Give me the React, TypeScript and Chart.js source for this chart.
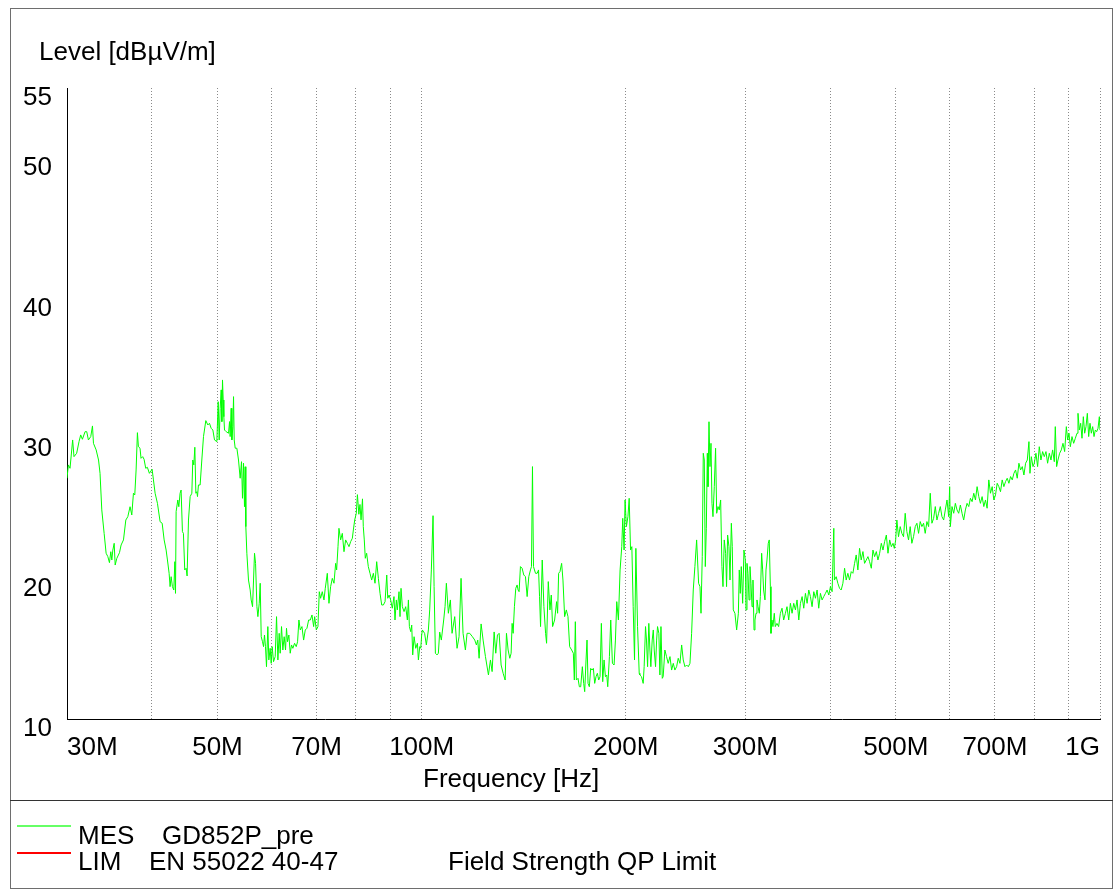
import React, { useEffect, useRef } from "react";
import { Chart, registerables } from "chart.js";

Chart.register(...registerables);

const FONT = "'Liberation Sans', Arial, Helvetica, sans-serif";

const mes30to60: number[][] = [
  [30.0,27.17],[30.14,28.12],[30.31,27.88],[30.58,29.9],[30.72,28.71],[31.0,28.95],[31.25,29.78],[31.43,30.26],[31.61,29.95],[31.9,30.49],[32.08,30.49],[32.26,29.9],[32.52,30.14],[32.71,30.9],[32.82,29.66],[33.12,29.19],[33.39,28.47],[33.56,27.52],[33.76,24.91],[34.03,23.24],[34.26,21.82],[34.46,21.58],[34.65,21.15],[34.81,21.93],[34.93,21.34],[35.05,22.05],[35.21,22.53],[35.33,20.98],[35.53,21.46],[35.85,21.86],[36.05,22.41],[36.34,22.77],[36.63,24.19],[36.88,24.43],[37.16,25.14],[37.38,24.55],[37.59,26.1],[37.76,25.98],[37.93,27.76],[38.1,30.42],[38.23,29.42],[38.44,29.31],[38.57,28.59],[38.79,28.71],[38.97,28.52],[39.19,27.88],[39.41,27.95],[39.68,27.52],[40.05,27.81],[40.23,27.05],[40.46,26.1],[40.78,25.38],[41.15,24.07],[41.44,23.96],[41.72,22.77],[42.0,22.05],[42.19,21.34],[42.43,20.39],[42.57,19.44],[42.72,20.15],[42.91,19.44],[43.11,19.2],[43.26,21.22],[43.36,18.96],[43.45,24.79],[43.7,25.62],[43.85,25.14],[44.04,26.1],[44.19,26.33],[44.39,23.36],[44.54,23.24],[44.74,20.63],[44.95,20.75],[45.1,20.2],[45.31,24.19],[45.57,25.86],[45.83,26.1],[45.98,28.47],[46.14,28.12],[46.3,29.38],[46.46,26.1],[46.61,26.21],[46.72,25.86],[46.87,26.69],[47.14,26.69],[47.41,28.47],[47.68,30.14],[48.06,31.28],[48.39,30.97],[48.66,31.09],[48.94,30.73],[49.22,30.61],[49.5,29.9],[49.89,29.78],[50.12,32.63],[50.29,29.9],[50.46,32.16],[50.63,33.47],[50.75,31.21],[50.86,34.18],[50.98,32.75],[51.09,31.56],[51.21,30.61],[51.5,30.49],[51.91,30.38],[52.09,31.21],[52.2,30.14],[52.38,32.16],[52.5,29.9],[52.68,30.85],[52.8,32.99],[52.92,29.9],[53.1,29.31],[53.4,29.31],[53.7,28.47],[54.0,27.17],[54.25,28.35],[54.43,25.74],[54.62,28.24],[54.8,25.14],[54.93,27.99],[55.05,23.72],[55.24,21.82],[55.55,19.91],[55.87,19.2],[56.06,18.49],[56.32,18.01],[56.51,19.91],[56.7,21.82],[56.9,21.1],[57.16,18.01],[57.35,17.3],[57.61,18.25],[57.8,19.68],[58.0,15.87],[58.26,15.51],[58.46,15.16],[58.65,15.99],[58.85,15.16],[59.05,13.73],[59.32,16.59],[59.52,14.21],[59.79,15.04]
];

const mes60to106: number[][] = [
  [60.0,13.97],[60.2,15.16],[60.48,14.09],[60.82,14.45],[61.1,17.3],[61.38,14.21],[61.65,16.11],[61.86,14.69],[62.14,16.59],[62.42,14.92],[62.7,15.87],[62.99,14.92],[63.2,16.47],[63.42,15.51],[63.71,15.99],[64.0,14.69],[64.29,15.28],[64.58,15.04],[64.95,15.4],[65.32,15.16],[65.62,15.51],[65.92,17.06],[66.22,16.35],[66.6,16.59],[66.98,15.63],[67.36,16.35],[67.74,16.47],[68.13,17.06],[68.52,17.06],[68.91,17.42],[69.3,16.59],[69.54,17.3],[69.93,16.35],[70.32,16.59],[70.64,19.08],[70.96,18.61],[71.36,19.08],[71.77,18.49],[72.09,19.32],[72.59,20.39],[73.0,18.25],[73.41,19.44],[73.83,20.03],[74.25,19.68],[74.67,21.1],[74.93,20.63],[75.27,22.29],[75.52,23.6],[75.95,22.77],[76.38,23.24],[76.82,21.93],[77.25,22.77],[77.7,22.53],[78.14,22.29],[78.58,22.65],[79.03,22.89],[79.3,23.48],[79.66,24.19],[80.1,24.67],[80.4,26.0],[80.8,24.6],[81.1,25.3],[81.4,24.2],[81.8,25.7],[82.02,23.72],[82.3,22.77],[82.58,21.46],[82.96,21.82],[83.43,20.87],[83.91,20.39],[84.39,19.91],[84.87,20.39],[85.35,19.68],[85.84,21.22],[86.33,20.03],[86.82,18.96],[87.31,18.13],[87.81,18.13],[88.31,18.37],[88.82,20.27],[89.12,18.61],[89.52,18.84],[90.0,18.49],[90.51,17.9],[91.03,18.73],[91.34,17.06],[91.76,18.49],[92.07,17.78],[92.6,19.08],[92.91,17.3],[93.23,19.32],[93.65,18.01],[94.19,17.66],[94.72,18.01],[95.26,17.06],[95.59,18.49],[95.91,16.59],[96.35,16.23],[96.68,16.7],[97.0,14.57],[97.45,15.87],[98.0,15.04],[98.56,15.4],[98.89,14.21],[99.35,15.16],[99.68,15.04],[100.0,15.99],[100.23,16.35],[101.0,16.11],[101.6,15.28],[102.3,16.35],[102.76,17.78],[103.34,20.63],[103.93,24.5],[104.3,19.44],[104.76,14.69],[105.36,14.57],[105.83,14.69]
];

const mes106to210: number[][] = [
  [106.3,16.2],[106.9,15.63],[107.76,17.06],[108.25,18.01],[108.74,19.68],[109.48,17.54],[110.23,18.49],[110.86,16.11],[111.87,17.3],[112.76,15.04],[113.53,15.87],[114.3,20.03],[115.08,16.11],[116.0,14.92],[116.66,16.11],[117.72,16.11],[118.8,15.87],[119.74,15.63],[120.42,15.28],[120.97,15.63],[121.52,14.33],[122.35,16.78],[123.18,15.63],[124.17,14.45],[125.44,13.14],[126.3,14.21],[127.01,13.38],[127.88,16.21],[128.6,14.69],[129.33,15.99],[130.07,16.11],[130.95,13.85],[131.85,13.26],[132.75,12.78],[133.35,16.11],[134.1,14.92],[134.86,14.33],[135.47,14.69],[135.93,16.82],[136.4,16.11],[137.0,18.01],[137.63,19.32],[138.25,19.56],[138.72,19.2],[139.19,19.08],[139.83,20.87],[140.62,20.75],[141.42,20.27],[142.23,20.15],[143.04,18.73],[143.85,20.15],[144.67,20.63],[145.17,20.87],[145.66,28.0],[146.16,20.87],[147.17,20.39],[148.0,20.39],[148.69,20.63],[149.2,18.73],[149.71,16.59],[150.56,21.34],[151.42,18.01],[152.29,16.11],[152.81,15.4],[153.68,19.8],[154.56,17.78],[155.26,18.84],[155.97,16.59],[157.03,17.06],[158.1,18.37],[158.64,17.54],[159.18,20.39],[159.9,20.51],[160.81,21.1],[161.54,19.91],[162.46,17.3],[163.39,17.78],[164.31,17.3],[165.25,15.16],[166.38,14.92],[167.33,14.69],[167.9,12.78],[168.47,16.94],[169.05,12.78],[170.01,12.9],[170.78,12.3],[171.56,12.3],[172.53,13.73],[173.32,12.54],[173.91,11.95],[174.7,14.21],[175.29,15.63],[175.89,12.54],[176.68,12.3],[177.48,13.61],[178.29,13.49],[179.1,13.61],[179.91,12.54],[180.73,13.02],[181.55,13.26],[182.38,12.78],[183.21,13.02],[184.04,16.82],[184.88,12.66],[185.73,14.21],[186.57,13.02],[187.42,13.14],[188.06,12.3],[189.13,14.45],[189.99,17.06],[191.07,13.97],[192.15,13.85],[193.03,15.63],[193.91,18.37],[195.0,17.06],[196.11,20.63],[197.22,22.29],[197.89,24.31],[198.79,22.05],[199.46,25.62],[200.36,23.72],[201.4,24.43],[202.27,25.74],[203.19,22.05],[204.1,22.29],[205.02,18.01],[205.96,14.21],[206.9,22.17],[208.08,16.59],[209.26,13.26]
];

const mes210to405: number[][] = [
  [209.7,13.14],[210.9,13.02],[212.1,12.54],[212.8,13.73],[213.8,16.59],[214.5,15.63],[215.3,13.73],[216.2,16.82],[217.0,14.92],[217.7,13.73],[218.7,15.63],[219.5,16.35],[220.2,14.92],[221.2,13.73],[222.0,15.63],[222.7,16.59],[223.7,16.11],[224.5,13.14],[225.3,16.59],[226.3,12.9],[227.0,13.02],[228.3,14.92],[229.6,14.45],[230.9,13.97],[232.3,14.45],[233.6,13.49],[234.9,13.97],[236.2,13.49],[237.6,13.73],[238.9,14.33],[240.3,13.97],[241.7,15.28],[243.0,14.21],[244.4,13.73],[245.8,13.85],[247.2,13.73],[248.6,13.97],[250.0,16.11],[251.4,19.2],[252.8,20.87],[254.3,22.77],[255.1,21.34],[256.0,19.68],[257.2,19.44],[258.1,17.54],[259.2,21.58],[260.1,28.95],[261.0,28.47],[261.9,20.87],[262.8,23.6],[263.7,28.95],[264.3,26.57],[265.2,31.2],[266.1,28.0],[267.0,29.66],[267.9,25.38],[268.8,24.43],[270.0,26.57],[271.2,29.31],[272.2,24.67],[273.4,25.15],[274.6,24.91],[275.9,25.62],[277.1,20.87],[278.1,19.44],[279.3,22.77],[280.6,21.82],[281.5,19.44],[282.5,23.12],[283.8,22.29],[284.8,19.91],[286.1,23.96],[287.0,22.29],[288.0,17.78],[289.6,17.54],[291.3,16.35],[293.0,17.54],[293.9,20.63],[294.9,18.96],[295.9,20.87],[297.3,18.25],[298.6,22.05],[300.0,21.34],[300.7,17.78],[301.7,21.1],[302.7,20.39],[303.8,18.49],[304.8,20.87],[305.8,19.68],[306.9,18.01],[307.9,19.91],[309.0,16.35],[310.0,17.06],[311.1,17.54],[312.1,18.49],[313.2,18.01],[314.6,17.54],[315.7,18.73],[317.1,21.82],[318.2,20.63],[319.2,19.2],[320.7,18.49],[321.8,20.63],[322.9,21.34],[324.3,22.53],[325.4,22.77],[326.6,19.44],[327.3,16.11],[328.4,17.06],[329.5,16.59],[331.0,17.54],[332.1,16.59],[334.0,16.82],[335.9,16.59],[337.9,17.54],[339.8,17.9],[341.7,17.06],[343.7,17.54],[345.6,18.01],[347.6,17.06],[349.6,18.25],[351.6,17.54],[353.6,18.25],[355.6,17.78],[357.6,18.49],[359.7,17.06],[361.7,18.25],[363.8,18.73],[365.8,17.9],[367.9,18.96],[370.0,18.25],[372.1,19.2],[374.2,18.73],[376.3,18.01],[378.5,19.08],[380.6,18.61],[382.8,19.2],[384.9,17.9],[387.1,18.96],[389.3,18.49],[391.5,18.73],[393.8,18.96],[396.0,19.2],[398.3,18.84],[400.5,19.44],[402.8,19.08],[405.1,23.6]
];

const mes405to1000: number[][] = [
  [405.9,19.91],[408.4,20.15],[410.7,19.68],[413.1,19.32],[415.4,19.2],[417.8,19.68],[420.2,20.75],[422.5,19.91],[424.9,20.39],[427.3,19.91],[429.8,20.51],[432.2,20.39],[434.7,21.1],[437.1,21.7],[439.6,20.63],[442.1,22.17],[444.6,21.34],[447.2,21.94],[449.7,21.1],[452.3,21.34],[454.9,21.58],[457.4,21.22],[460.1,20.75],[462.7,22.05],[465.3,21.58],[468.0,21.94],[470.6,21.34],[473.3,21.82],[476.0,22.53],[478.7,22.05],[481.4,22.65],[484.2,23.12],[486.9,21.82],[489.7,22.77],[492.5,22.29],[495.3,22.53],[497.5,22.17],[499.8,22.77],[501.8,24.19],[504.6,23.0],[507.5,23.72],[510.4,23.24],[513.3,23.0],[516.2,24.67],[519.1,23.36],[522.1,22.77],[525.0,23.72],[528.0,22.53],[531.0,23.0],[534.1,23.72],[537.1,23.96],[540.2,23.24],[543.2,24.08],[546.3,23.72],[549.4,23.96],[552.5,23.24],[555.7,24.08],[558.9,23.72],[562.0,26.1],[565.2,23.96],[568.5,24.31],[571.7,25.15],[574.9,24.19],[578.2,24.67],[581.5,25.15],[584.8,24.43],[588.2,24.19],[591.5,24.91],[594.9,25.62],[598.3,24.43],[600.3,26.57],[601.7,23.72],[605.1,25.15],[608.6,24.67],[612.0,25.38],[615.5,24.91],[619.0,24.67],[622.5,25.26],[626.1,24.67],[629.6,24.19],[633.2,24.91],[636.8,25.38],[640.5,25.15],[644.1,25.74],[647.8,25.5],[651.5,26.1],[655.2,25.62],[658.9,26.57],[662.7,25.86],[666.4,25.38],[670.2,25.86],[674.1,25.15],[677.9,25.62],[681.7,25.03],[685.6,27.05],[689.5,26.1],[693.5,26.57],[697.4,25.62],[701.4,25.98],[705.4,26.81],[709.4,26.57],[713.4,26.21],[717.5,27.05],[721.6,26.57],[725.7,26.93],[729.8,27.17],[734.0,26.81],[738.2,27.29],[742.4,27.05],[746.6,27.52],[750.8,27.76],[755.1,27.17],[759.4,28.24],[763.7,27.76],[768.1,28.0],[772.4,27.4],[776.8,28.24],[781.3,28.47],[785.7,29.78],[788.4,27.52],[792.0,28.71],[796.5,28.0],[800.0,28.24],[804.6,28.95],[809.1,28.0],[813.7,29.42],[818.3,28.47],[823.0,29.07],[827.7,28.71],[832.4,29.07],[837.1,28.24],[841.9,28.95],[846.7,28.47],[851.5,29.19],[856.3,28.35],[859.2,30.85],[863.1,28.0],[867.0,28.47],[872.0,28.95],[876.9,29.19],[881.9,29.66],[886.9,29.07],[892.0,30.85],[896.0,29.9],[900.1,30.38],[904.2,29.42],[909.3,30.14],[914.5,29.66],[919.7,30.02],[924.9,30.38],[928.0,31.8],[932.2,30.61],[936.5,31.09],[940.7,30.02],[945.0,31.56],[949.3,30.38],[953.6,30.85],[957.9,31.8],[962.3,30.14],[966.6,31.09],[971.0,30.38],[975.4,30.85],[979.9,30.14],[984.3,30.61],[988.8,30.49],[993.3,30.73],[997.8,31.56],[1000,30.61]
];

const yTickValues = [10, 20, 30, 40, 50, 55];
const xGridMHz = [30, 40, 50, 60, 70, 80, 90, 100, 200, 300, 400, 500, 600, 700, 800, 900, 1000];
const xLabelMHz = [30, 50, 70, 100, 200, 300, 500, 700, 1000];
const xLabelText = ["30M", "50M", "70M", "100M", "200M", "300M", "500M", "700M", "1G"];

const textStyle = (left: number, top: number): React.CSSProperties => ({
  position: "absolute",
  left,
  top,
  fontFamily: FONT,
  fontSize: 26,
  lineHeight: "26px",
  color: "#000",
  whiteSpace: "pre",
});

export default function App() {
  const canvasRef = useRef<HTMLCanvasElement>(null);

  useEffect(() => {
    const canvas = canvasRef.current;
    if (!canvas) return;
    const all = [...mes30to60, ...mes60to106, ...mes106to210, ...mes210to405, ...mes405to1000];
    const points = all.map(([f, v]) => ({ x: f * 1e6, y: v }));

    const chart = new Chart(canvas, {
      type: "line",
      data: {
        datasets: [
          {
            label: "MES GD852P_pre",
            data: points,
            borderColor: "#00ff00",
            borderWidth: 1,
            pointRadius: 0,
            tension: 0,
            fill: false,
          },
        ],
      },
      options: {
        animation: false,
        responsive: false,
        maintainAspectRatio: false,
        devicePixelRatio: 1,
        layout: { padding: { left: 0, top: 88, right: 13, bottom: 130 } },
        plugins: {
          legend: { display: false },
          tooltip: { enabled: false },
          title: { display: false },
        },
        scales: {
          x: {
            type: "logarithmic",
            min: 30e6,
            max: 1e9,
            afterBuildTicks: (scale: any) => {
              scale.ticks = xGridMHz.map((m) => ({ value: m * 1e6 }));
            },
            afterFit: (scale: any) => {
              scale.height = 40;
            },
            ticks: {
              autoSkip: false,
              maxRotation: 0,
              minRotation: 0,
              align: "inner",
              padding: 13,
              color: "#000",
              font: { family: FONT, size: 26 },
              callback: (value: any) => {
                const m = Math.round(Number(value) / 1e6);
                const i = xLabelMHz.indexOf(m);
                return i >= 0 ? xLabelText[i] : "";
              },
            },
            grid: { color: "#8a8a8a", lineWidth: 1, drawTicks: false },
            border: { display: true, color: "#000", width: 1, dash: [1, 2] },
          },
          y: {
            type: "linear",
            min: 10,
            max: 55,
            afterBuildTicks: (scale: any) => {
              scale.ticks = yTickValues.map((v) => ({ value: v }));
            },
            afterFit: (scale: any) => {
              scale.width = 67;
            },
            ticks: {
              padding: 15,
              labelOffset: 10,
              color: "#000",
              font: { family: FONT, size: 26 },
              callback: (value: any) => String(value),
            },
            grid: { display: false, drawTicks: false },
            border: { display: true, color: "#000", width: 1 },
          },
        },
      } as any,
    });
    return () => chart.destroy();
  }, []);

  return (
    <div style={{ position: "absolute", left: 0, top: 0, width: 1113, height: 889, background: "#fff", overflow: "hidden" }}>
      <div style={{ position: "absolute", left: 10, top: 8, width: 1103, height: 881, boxSizing: "border-box", border: "1px solid #6e6e6e" }} />
      <div style={{ position: "absolute", left: 10, top: 800, width: 1103, height: 1, background: "#333" }} />
      <canvas ref={canvasRef} width={1113} height={889} style={{ position: "absolute", left: 0, top: 0, width: 1113, height: 889 }} />
      <div style={textStyle(39, 38)}>Level [dBµV/m]</div>
      <div style={textStyle(423, 765)}>Frequency [Hz]</div>
      <div style={{ position: "absolute", left: 17, top: 825, width: 54, height: 2, background: "#66ff66" }} />
      <div style={{ position: "absolute", left: 17, top: 852, width: 54, height: 2, background: "#ff0000" }} />
      <div style={textStyle(78, 822)}>MES</div>
      <div style={textStyle(162, 822)}>GD852P_pre</div>
      <div style={textStyle(78, 848)}>LIM</div>
      <div style={textStyle(149, 848)}>EN 55022 40-47</div>
      <div style={textStyle(448, 848)}>Field Strength QP Limit</div>
    </div>
  );
}
